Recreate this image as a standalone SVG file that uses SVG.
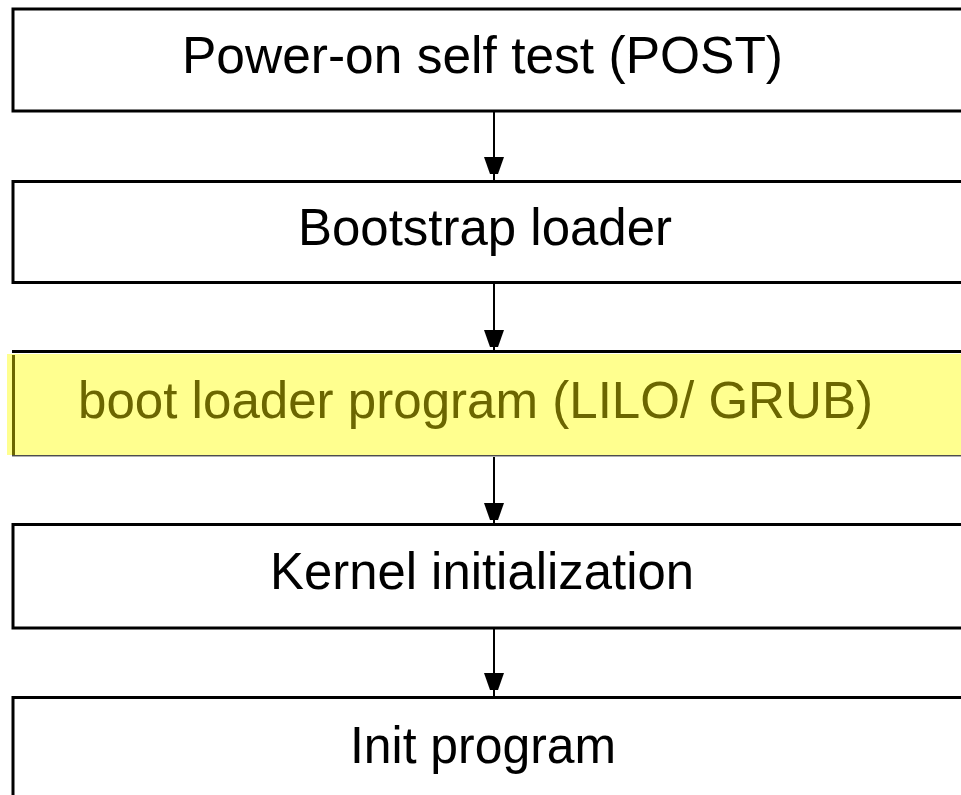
<svg xmlns="http://www.w3.org/2000/svg" xmlns:xlink="http://www.w3.org/1999/xlink" width="961" height="795" viewBox="0 0 961 795">
  <style>
    .box { fill: #ffffff; stroke: #000000; stroke-width: 3; }
    .label { font-family: "Liberation Sans", Arial, sans-serif; font-size: 52px; fill: #000000; }
    .hl { fill: #6b6600; }
    .wire { stroke: #000000; stroke-width: 2; fill: none; }
    .head { fill: #000000; }
  </style>
  <defs>
    <!-- blocky arrowhead, tip pointing down, origin at top centre -->
    <path id="arrowhead" d="M -10 0 L 10 0 L 4 17 L -4 17 Z"/>
  </defs>

  <rect x="0" y="0" width="961" height="795" fill="#ffffff"/>

  <g id="node-post">
    <rect class="box" x="13" y="9" width="960" height="102"/>
    <text class="label" x="182" y="73" textLength="601" lengthAdjust="spacingAndGlyphs">Power-on self test (POST)</text>
  </g>

  <g id="node-bootstrap">
    <rect class="box" x="13" y="181.5" width="960" height="101"/>
    <text class="label" x="298" y="245" textLength="374" lengthAdjust="spacingAndGlyphs">Bootstrap loader</text>
  </g>

  <g id="node-bootloader">
    <rect x="7" y="354" width="960" height="101" fill="#ffff8f"/>
    <line x1="12" y1="351.5" x2="961" y2="351.5" stroke="#000000" stroke-width="3"/>
    <line x1="13.5" y1="355" x2="13.5" y2="455" stroke="#6b6600" stroke-width="3"/>
    <line x1="12" y1="455.5" x2="961" y2="455.5" stroke="#4d4d4d" stroke-width="1"/>
    <line x1="12" y1="456.5" x2="961" y2="456.5" stroke="#b0b0b0" stroke-width="1"/>
    <text class="label hl" x="78" y="418" textLength="795" lengthAdjust="spacingAndGlyphs">boot loader program (LILO/ GRUB)</text>
  </g>

  <g id="node-kernel">
    <rect class="box" x="13" y="524.5" width="960" height="103.5"/>
    <text class="label" x="270" y="589" textLength="424" lengthAdjust="spacingAndGlyphs">Kernel initialization</text>
  </g>

  <g id="node-init">
    <rect class="box" x="13" y="697.5" width="960" height="120"/>
    <text class="label" x="350" y="763" textLength="266" lengthAdjust="spacingAndGlyphs">Init program</text>
  </g>

  <g id="connectors">
    <line class="wire" x1="494" y1="112" x2="494" y2="180"/>
    <use xlink:href="#arrowhead" class="head" x="494" y="157"/>
    <line class="wire" x1="494" y1="284" x2="494" y2="350"/>
    <use xlink:href="#arrowhead" class="head" x="494" y="330"/>
    <line class="wire" x1="494" y1="457" x2="494" y2="523"/>
    <use xlink:href="#arrowhead" class="head" x="494" y="503"/>
    <line class="wire" x1="494" y1="629" x2="494" y2="696"/>
    <use xlink:href="#arrowhead" class="head" x="494" y="673"/>
  </g>
</svg>
